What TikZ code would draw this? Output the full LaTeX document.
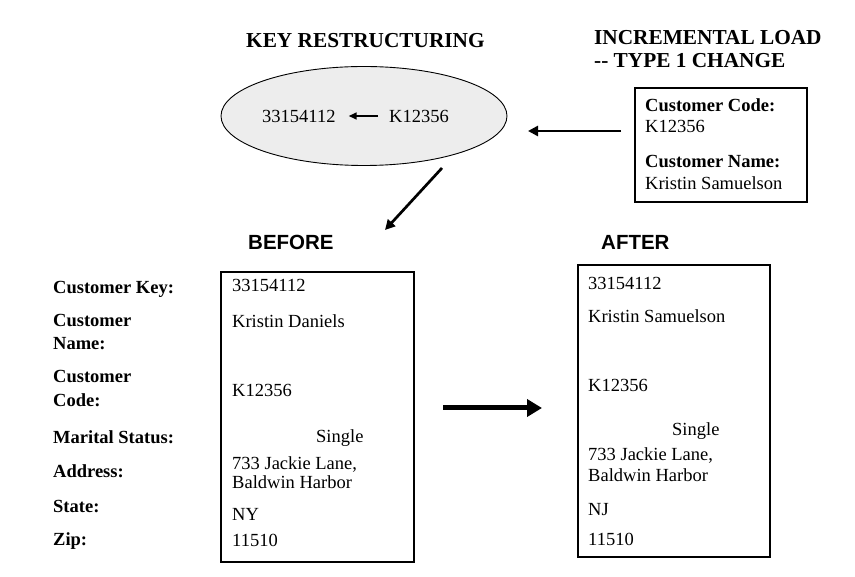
\documentclass[tikz,border=0pt]{standalone}
\usepackage{fontspec}
\setmainfont{Liberation Serif}
\setsansfont{Liberation Sans}
\usetikzlibrary{shapes.geometric,arrows.meta}
\begin{document}
\begin{tikzpicture}[x=1pt,y=-1pt,
  txt/.style={anchor=base west,inner sep=0,font=\fontsize{18.5}{22}\selectfont},
  lbl/.style={anchor=base west,inner sep=0,font=\fontsize{18.5}{22}\selectfont\bfseries},
  head/.style={anchor=base west,inner sep=0,font=\fontsize{21.3}{25}\selectfont\bfseries},
  shead/.style={anchor=base west,inner sep=0,font=\fontsize{20.5}{24}\selectfont\sffamily\bfseries},
  box/.style={draw,line width=1.4pt,inner sep=0},
  arr/.style={line width=2.7pt,-{Triangle[length=10pt,width=10pt]}},
  bigarr/.style={line width=5pt,-{Triangle[length=15pt,width=17pt]}}]
\useasboundingbox (0,0) rectangle (855,577);
% headings
\node[head] (kr) at (246,48) {KEY RESTRUCTURING};
\node[head] (inc1) at (594,45) {INCREMENTAL LOAD};
\node[head] (inc2) at (594,68) {-{}- TYPE 1 CHANGE};
\node[shead] (bef) at (248,250) {BEFORE};
\node[shead] (aft) at (601,250) {AFTER};
% ellipse
\node[ellipse,draw,line width=0.9pt,fill=gray!14,minimum width=286pt,minimum height=99pt,inner sep=0] (ell) at (364,116) {};
\node[txt] (ek) at (262,123) {33154112};
\node[txt] (ec) at (389,123) {K12356};
\draw[line width=1.5pt,-{Triangle[length=8pt,width=7pt]}] ([xshift=-11pt,yshift=7pt]ec.base west) -- ([xshift=13pt,yshift=7pt]ek.base east);
% incremental box
\node[box,minimum width=172pt,minimum height=114pt] (inbox) at (721,145) {};
\node[lbl] (ic) at (645,112) {Customer Code:};
\node[txt] (icv) at (645,133) {K12356};
\node[lbl] (in) at (645,168) {Customer Name:};
\node[txt] (inv) at (645,190) {Kristin Samuelson};
\coordinate (a1s) at (621,131);
\coordinate (a1e) at (528,131);
\draw[arr] (a1s) -- (a1e);
% diagonal arrow
\coordinate (a2s) at (442,168);
\coordinate (a2e) at (385,230);
\draw[arr] (a2s) -- (a2e);
% labels
\node[lbl] (l1) at (53,294) {Customer Key:};
\node[lbl] (l2a) at (53,327) {Customer};
\node[lbl] (l2b) at (53,350) {Name:};
\node[lbl] (l3a) at (53,383) {Customer};
\node[lbl] (l3b) at (53,407) {Code:};
\node[lbl] (l4) at (53,444) {Marital Status:};
\node[lbl] (l5) at (53,478) {Address:};
\node[lbl] (l6) at (53,512) {State:};
\node[lbl] (l7) at (53,545) {Zip:};
% before box
\node[box,minimum width=193pt,minimum height=290pt] (bbox) at (317.5,417) {};
\node[txt] (b1) at (232,292) {33154112};
\node[txt] (b2) at (232,328) {Kristin Daniels};
\node[txt] (b3) at (232,397) {K12356};
\node[txt] (b4) at (316,443) {Single};
\node[txt] (b5a) at (232,470) {733 Jackie Lane,};
\node[txt] (b5b) at (232,489) {Baldwin Harbor};
\node[txt] (b6) at (232,520) {NY};
\node[txt] (b7) at (232,547) {11510};
% after box
\node[box,minimum width=192pt,minimum height=292pt] (abox) at (674,411) {};
\node[txt] (c1) at (588,290) {33154112};
\node[txt] (c2) at (588,323) {Kristin Samuelson};
\node[txt] (c3) at (588,392) {K12356};
\node[txt] (c4) at (672,436) {Single};
\node[txt] (c5a) at (588,461) {733 Jackie Lane,};
\node[txt] (c5b) at (588,482) {Baldwin Harbor};
\node[txt] (c6) at (588,515) {NJ};
\node[txt] (c7) at (588,545) {11510};
% middle arrow
\coordinate (a3s) at (443,408);
\coordinate (a3e) at (542,408);
\draw[bigarr] (a3s) -- (a3e);
\end{tikzpicture}
\end{document}
